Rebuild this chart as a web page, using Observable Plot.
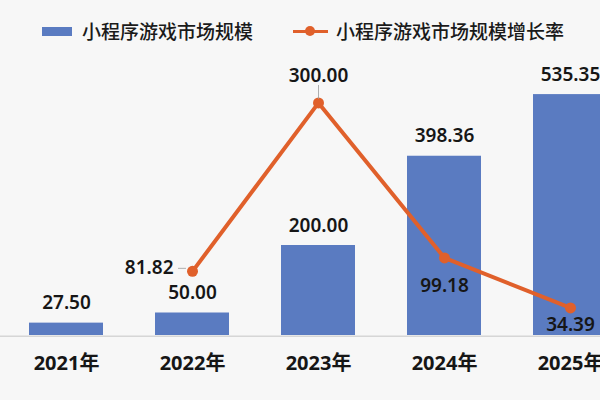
<!DOCTYPE html>
<html><head><meta charset="utf-8">
<script src="https://cdn.jsdelivr.net/npm/d3@7"></script>
<script src="https://cdn.jsdelivr.net/npm/@observablehq/plot@0.6"></script>
<style>
body{margin:0;background:#f7f7f7;color:#1a1a1a}
#wrap{width:600px;height:400px;position:relative;overflow:hidden;background:#f7f7f7}
#legend{position:absolute;left:0;top:0;width:600px;height:50px;font-family:'Noto Sans CJK SC','Noto Sans',sans-serif}
.sw{position:absolute}
.lt{position:absolute;font-size:19px;line-height:20px;top:21px;font-weight:500;white-space:nowrap;color:#1a1a1a}
#chart{position:absolute;top:50px;left:0;width:600px;height:350px}
#chart svg{position:absolute;left:0;top:0}
</style></head>
<body><div id="wrap"><div id="legend"></div><div id="chart"></div></div>
<script>
const years = ["2021年", "2022年", "2023年", "2024年", "2025年"];
const marketSize = [27.50, 50.00, 200.00, 398.36, 535.35];
const growthRate = [null, 81.82, 300.00, 99.18, 34.39];
const seriesNames = ["小程序游戏市场规模", "小程序游戏市场规模增长率"];
const colors = ["#5a7bc1", "#e0602b"];

const FONT = "'Noto Sans','Noto Sans CJK SC',sans-serif";
const TEXT = "#161616";

const sizeData = years.map((year, i) => ({year, value: marketSize[i]}));
const rateData = years.map((year, i) => ({year, value: growthRate[i]})).filter(d => d.value != null);

// legend
const legend = document.getElementById("legend");
legend.innerHTML = `
  <div class="sw" style="left:42px;top:27px;width:30px;height:9px;background:${colors[0]}"></div>
  <div class="lt" style="left:82px">${seriesNames[0]}</div>
  <div class="sw" style="left:293px;top:29.5px;width:35px;height:3px;background:${colors[1]}"></div>
  <div class="sw" style="left:305px;top:26px;width:10px;height:10px;border-radius:50%;background:${colors[1]}"></div>
  <div class="lt" style="left:336px">${seriesNames[1]}</div>`;

const xScale = {type: "band", domain: years, range: [-25, 662], padding: 0.41};
const common = {
  width: 600, height: 350,
  marginTop: 0, marginBottom: 65, marginLeft: 0, marginRight: 0,
  style: {background: "transparent", fontFamily: FONT, color: TEXT, overflow: "visible"}
};

const barsPlot = Plot.plot({
  ...common,
  x: {...xScale, axis: null, label: null},
  y: {domain: [0, 600], range: [285, 15], axis: null},
  marks: [
    Plot.barY(sizeData, {x: "year", y: "value", fill: colors[0]}),
    Plot.ruleY([0], {stroke: "#d6d6d6", strokeWidth: 1.6, dy: 0.7}),
    Plot.text(sizeData, {x: "year", y: "value", text: d => d.value.toFixed(2), dy: -20,
      fontSize: 19, fontWeight: 600, fill: TEXT, fontFamily: FONT}),
    Plot.axisX({tickSize: 0, tickPadding: 20, fontSize: 20, fontWeight: 700, fill: TEXT, fontFamily: FONT, label: null})
  ]
});

const lblStyle = {x: "year", y: "value", text: d => d.value.toFixed(2), fontSize: 19, fontWeight: 600, fill: TEXT, fontFamily: FONT};
const linePlot = Plot.plot({
  ...common,
  x: {...xScale, axis: null},
  y: {domain: [0, 350], range: [284, 13.8], axis: null},
  marks: [
    Plot.line(rateData, {x: "year", y: "value", stroke: colors[1], strokeWidth: 4, strokeLinejoin: "round"}),
    Plot.dot(rateData, {x: "year", y: "value", r: 5.5, fill: colors[1]}),
    // leader lines
    Plot.tickY(rateData.filter(d => d.value === 81.82), {x: "year", y: "value", stroke: "#9a9a9a", strokeWidth: 0.8,
      insetLeft: 23, insetRight: 43, dy: -3}),
    Plot.ruleX(rateData.filter(d => d.value === 300), {x: "year", stroke: "#9a9a9a", strokeWidth: 0.8,
      insetTop: 35, insetBottom: 236}),
    Plot.text(rateData.filter(d => d.value === 81.82), {...lblStyle, textAnchor: "end", dx: -19, dy: -3}),
    Plot.text(rateData.filter(d => d.value === 300), {...lblStyle, dy: -27}),
    Plot.text(rateData.filter(d => d.value === 99.18), {...lblStyle, dy: 28}),
    Plot.text(rateData.filter(d => d.value === 34.39), {...lblStyle, dy: 17})
  ]
});

const chart = document.getElementById("chart");
chart.appendChild(barsPlot);
chart.appendChild(linePlot);
</script>
</body></html>
